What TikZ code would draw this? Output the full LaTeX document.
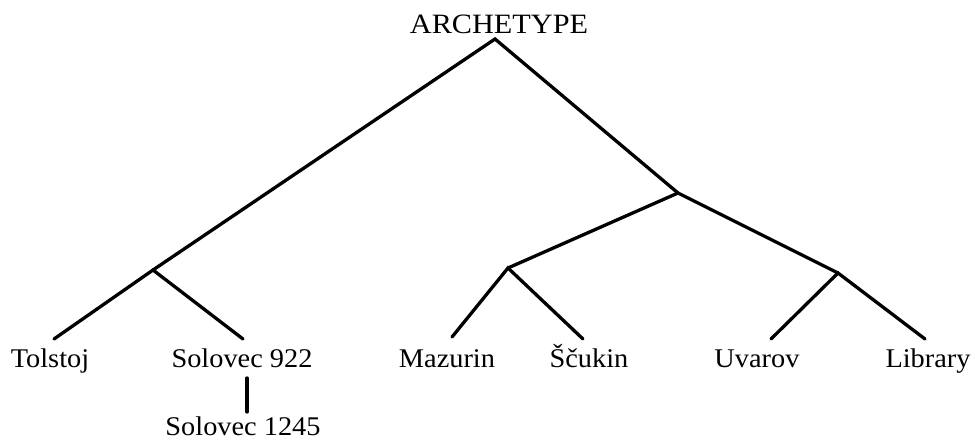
\documentclass[tikz,border=0pt]{standalone}
\usepackage{fontspec}
\newfontfamily\stemmafont[FakeStretch=1.05]{Liberation Serif}
\newfontfamily\titlefont[FakeStretch=1.08]{Liberation Serif}
\tikzset{
  label/.style={anchor=base, inner sep=0pt, font=\stemmafont\fontsize{27}{27}\selectfont},
  title/.style={anchor=base, inner sep=0pt, font=\titlefont\fontsize{28}{28}\selectfont},
  branch/.style={line width=3.3pt, line cap=round, line join=miter}
}
\begin{document}
\begin{tikzpicture}[x=1pt, y=-1pt]
  \useasboundingbox (0,0) rectangle (975,440);

  % manuscript sigla
  \node[title] (arch) at (499,33) {ARCHETYPE};
  \node[label] (tol) at (50,367) {Tolstoj};
  \node[label] (sol922) at (242,367) {Solovec 922};
  \node[label] (sol1245) at (243,435) {Solovec 1245};
  \node[label] (maz) at (447,367) {Mazurin};
  \node[label] (scu) at (589,367) {Ščukin};
  \node[label] (uva) at (757,367) {Uvarov};
  \node[label] (lib) at (928,367) {Library};

  % branching points of the stemma
  \coordinate (apex) at (495,39);
  \coordinate (left) at (153,270);
  \coordinate (right) at (678,193);
  \coordinate (mid) at (508,268);
  \coordinate (far) at (838,273);

  % line ends above each siglum
  \coordinate (tolE) at (54,339);
  \coordinate (solE) at (243,339);
  \coordinate (mazE) at (452,337);
  \coordinate (scuE) at (583,339);
  \coordinate (uvaE) at (771,339);
  \coordinate (libE) at (925,339);
  \coordinate (solA) at (247,378);
  \coordinate (solB) at (247,412);

  \draw[branch] (left) -- (apex) -- (right);
  \draw[branch] (tolE) -- (left) -- (solE);
  \draw[branch] (mid) -- (right) -- (far);
  \draw[branch] (mazE) -- (mid) -- (scuE);
  \draw[branch] (uvaE) -- (far) -- (libE);
  \draw[branch] (solA) -- (solB);
\end{tikzpicture}
\end{document}
